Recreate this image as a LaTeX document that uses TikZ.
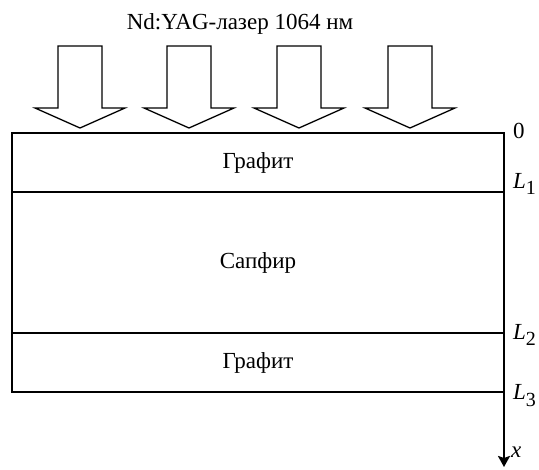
\documentclass[tikz,border=0pt]{standalone}
\usepackage{fontspec}
\setmainfont{Liberation Serif}
\usetikzlibrary{positioning,arrows.meta}

\newcommand{\depthL}[1]{\textit{L}\raisebox{-0.3em}{\fontsize{20}{20}\selectfont #1}}

\tikzset{
  layer/.style={rectangle, draw, line width=2.5pt, outer sep=0pt, minimum width=492pt, inner sep=0pt},
  beam/.style={draw, line width=1.3pt, line join=miter},
  lbl/.style={anchor=west, inner sep=0pt}
}

\begin{document}
\begin{tikzpicture}[x=1pt, y=-1pt, font=\fontsize{23}{27}\selectfont]
  \useasboundingbox (0,0) rectangle (539,470);
  % laser title and beams
  \node (title) at (240,24) {Nd:YAG-лазер 1064 нм};
  \foreach \cx in {80,189,299,410}
    \draw[beam] (\cx-22,46) -- (\cx+22,46) -- (\cx+22,108) -- (\cx+45,108)
      -- (\cx,128) -- (\cx-45,108) -- (\cx-22,108) -- cycle;
  % layers
  \node (graf1) [layer, minimum height=59pt, anchor=north west] at (12,133) {Графит};
  \node (sapf) [layer, minimum height=141pt, below=0pt of graf1] {Сапфир};
  \node (graf2) [layer, minimum height=59pt, below=0pt of sapf] {Графит};
  % depth axis
  \coordinate (xend) at (504,467);
  \draw[line width=2.5pt, -{Stealth[length=11pt, width=12pt, inset=2pt]}] (graf1.north east) -- (xend);
  \node[lbl] at (513,131) {0};
  \node[lbl] at (513,184) {\depthL{1}};
  \node[lbl] at (513,335) {\depthL{2}};
  \node[lbl] at (513,396) {\depthL{3}};
  \node[lbl] at (511,452) {\textit{x}};
\end{tikzpicture}
\end{document}
